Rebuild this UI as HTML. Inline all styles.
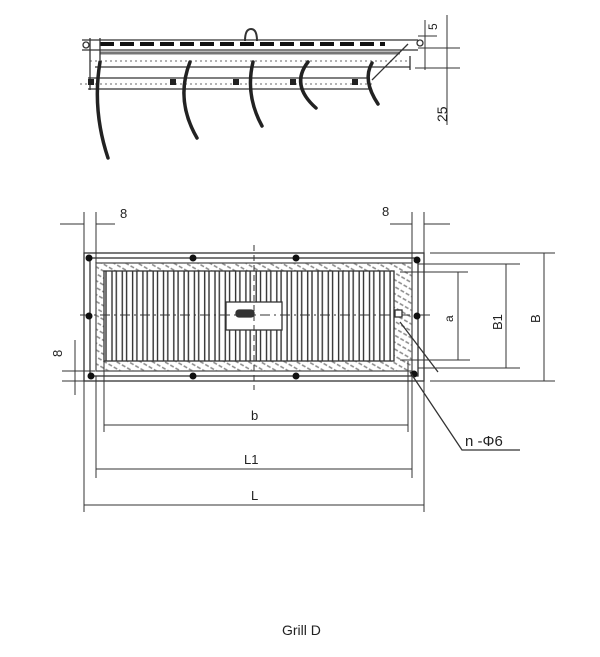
<!DOCTYPE html>
<html><head><meta charset="utf-8"><style>
body{margin:0;background:#fff;width:600px;height:657px;overflow:hidden}
svg{display:block}
text{font-family:"Liberation Sans",sans-serif;fill:#222}
</style></head><body>
<svg width="600" height="657" viewBox="0 0 600 657" xmlns="http://www.w3.org/2000/svg">
<defs>
<pattern id="sl" x="104" y="0" width="10.3" height="20" patternUnits="userSpaceOnUse">
<rect width="10.3" height="20" fill="#fff"/>
<line x1="2" y1="0" x2="2" y2="20" stroke="#333" stroke-width="1.4"/>
<line x1="8" y1="0" x2="8" y2="20" stroke="#333" stroke-width="1.4"/>
</pattern>
<pattern id="ht" width="6" height="6" patternUnits="userSpaceOnUse" patternTransform="rotate(30)">
<rect width="6" height="6" fill="#fff"/><line x1="0" y1="3" x2="4" y2="3" stroke="#888" stroke-width="1.5"/>
</pattern>
</defs>
<g stroke="#333" fill="none" stroke-width="1.3">
<!-- SIDE VIEW -->
<path d="M245,41 q0,-12 6,-12 q6,0 6,12" stroke-width="2"/>
<line x1="82" y1="40" x2="418" y2="40"/>
<line x1="82" y1="50" x2="418" y2="50"/>
<line x1="100" y1="44" x2="385" y2="44" stroke="#111" stroke-width="4" stroke-dasharray="14,6"/>
<line x1="100" y1="53" x2="400" y2="53" stroke="#777" stroke-width="3"/>
<line x1="90" y1="61" x2="410" y2="61" stroke="#888" stroke-dasharray="2,3"/>
<line x1="95" y1="67" x2="410" y2="67"/>
<line x1="410" y1="56" x2="410" y2="70"/>
<line x1="88" y1="78" x2="370" y2="78"/>
<line x1="80" y1="84" x2="375" y2="84" stroke="#888" stroke-dasharray="2,3"/>
<line x1="88" y1="89" x2="370" y2="89"/>
<line x1="90" y1="38" x2="90" y2="90"/>
<line x1="100" y1="38" x2="100" y2="60"/>
<circle cx="86" cy="45" r="3"/><circle cx="420" cy="43" r="3"/>
<line x1="372" y1="80" x2="408" y2="44"/>
<g stroke="#222" stroke-width="3.5" stroke-linecap="round">
<path d="M100,62 Q92,110 108,158"/>
<path d="M190,62 Q175,100 197,138"/>
<path d="M253,62 Q245,95 262,126"/>
<path d="M308,62 Q290,85 316,108"/>
<path d="M372,63 Q362,80 378,104"/>
</g>
<g fill="#222" stroke="none"><rect x="88" y="79" width="6" height="6"/><rect x="170" y="79" width="6" height="6"/><rect x="233" y="79" width="6" height="6"/><rect x="290" y="79" width="6" height="6"/><rect x="352" y="79" width="6" height="6"/></g>
<line x1="425" y1="20" x2="425" y2="70" stroke-width="1"/>
<line x1="447" y1="15" x2="447" y2="125" stroke-width="1"/>
<line x1="418" y1="48" x2="460" y2="48" stroke-width="1"/>
<line x1="418" y1="36" x2="437" y2="36" stroke-width="1"/>
<line x1="415" y1="68" x2="460" y2="68" stroke-width="1"/>
<!-- FRONT VIEW -->
<rect x="84" y="253" width="340" height="128"/>
<rect x="90" y="258" width="328" height="118"/>
<rect x="96" y="263" width="316" height="108" fill="url(#ht)" stroke="#555"/>
<rect x="104" y="271" width="290" height="90" fill="url(#sl)" stroke="#333"/>
<rect x="226" y="302" width="56" height="28" fill="#fff" stroke="#333"/>
<rect x="236" y="310" width="18" height="7" rx="3" fill="#333"/>
<line x1="80" y1="315" x2="430" y2="315" stroke-dasharray="10,4,2,4" stroke-width="1"/>
<line x1="254" y1="245" x2="254" y2="390" stroke-dasharray="6,4" stroke-width="1"/>
<g fill="#111" stroke="none">
<circle cx="89" cy="258" r="3.5"/><circle cx="193" cy="258" r="3.5"/><circle cx="296" cy="258" r="3.5"/><circle cx="417" cy="260" r="3.5"/>
<circle cx="89" cy="316" r="3.5"/><circle cx="417" cy="316" r="3.5"/>
<circle cx="91" cy="376" r="3.5"/><circle cx="193" cy="376" r="3.5"/><circle cx="296" cy="376" r="3.5"/><circle cx="414" cy="374" r="3.5"/>
</g>
<rect x="395" y="310" width="7" height="7" fill="#fff"/>
<g stroke-width="1">
<line x1="84" y1="212" x2="84" y2="253"/><line x1="96" y1="212" x2="96" y2="263"/>
<line x1="412" y1="212" x2="412" y2="263"/><line x1="424" y1="212" x2="424" y2="253"/>
<line x1="60" y1="224" x2="84" y2="224"/><line x1="96" y1="224" x2="115" y2="224"/>
<line x1="390" y1="224" x2="412" y2="224"/><line x1="424" y1="224" x2="450" y2="224"/>
<line x1="430" y1="253" x2="555" y2="253"/><line x1="418" y1="264" x2="520" y2="264"/>
<line x1="400" y1="272" x2="468" y2="272"/><line x1="400" y1="360" x2="470" y2="360"/>
<line x1="418" y1="368" x2="520" y2="368"/><line x1="430" y1="381" x2="555" y2="381"/>
<line x1="458" y1="272" x2="458" y2="360"/><line x1="506" y1="264" x2="506" y2="368"/><line x1="544" y1="253" x2="544" y2="381"/>
<line x1="104" y1="361" x2="104" y2="432"/><line x1="408" y1="361" x2="408" y2="432"/>
<line x1="96" y1="376" x2="96" y2="478"/><line x1="412" y1="376" x2="412" y2="478"/>
<line x1="84" y1="381" x2="84" y2="512"/><line x1="424" y1="381" x2="424" y2="512"/>
<line x1="104" y1="425" x2="408" y2="425"/><line x1="96" y1="469" x2="412" y2="469"/><line x1="84" y1="505" x2="424" y2="505"/>
<line x1="75" y1="340" x2="75" y2="395"/><line x1="62" y1="371" x2="95" y2="371"/><line x1="62" y1="381" x2="84" y2="381"/>
<polyline points="410,372 462,450 520,450" stroke-width="1.3"/>
<line x1="400" y1="322" x2="438" y2="372" stroke-width="1.3"/>
</g>
</g>
<text x="120" y="218" font-size="13">8</text>
<text x="382" y="216" font-size="13">8</text>
<text x="437" y="30" font-size="12" transform="rotate(-90 437 30)">5</text>
<text x="447" y="122" font-size="14" transform="rotate(-90 447 122)">25</text>
<text x="453" y="322" font-size="12" transform="rotate(-90 453 322)">a</text>
<text x="502" y="330" font-size="13" transform="rotate(-90 502 330)">B1</text>
<text x="540" y="323" font-size="13" transform="rotate(-90 540 323)">B</text>
<text x="62" y="357" font-size="13" transform="rotate(-90 62 357)">8</text>
<text x="251" y="420" font-size="13">b</text>
<text x="244" y="464" font-size="13">L1</text>
<text x="251" y="500" font-size="13">L</text>
<text x="465" y="446" font-size="15">n -Φ6</text>
<text x="282" y="635" font-size="14">Grill D</text>
</svg>
</body></html>
